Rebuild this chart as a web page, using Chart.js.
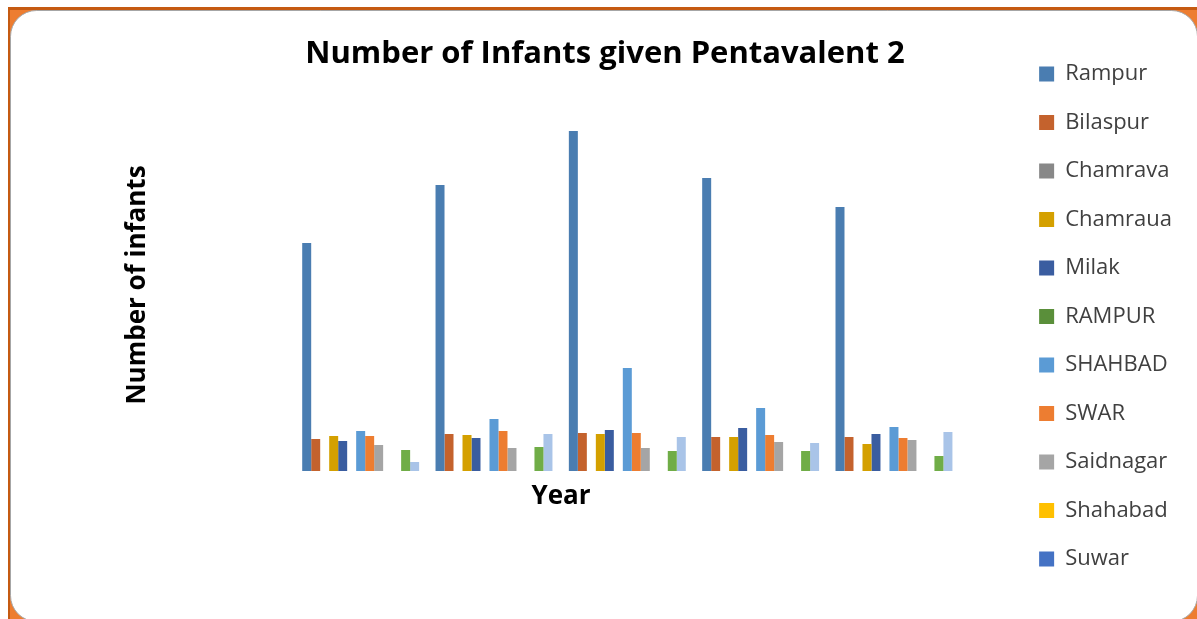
<!DOCTYPE html>
<html>
<head>
<meta charset="utf-8">
<title>Number of Infants given Pentavalent 2</title>
<script src="https://cdn.jsdelivr.net/npm/chart.js@4.4.1/dist/chart.umd.min.js"></script>
<style>
    html, body { margin: 0; padding: 0; background: #fff; }
    #wrap { width: 1197px; height: 619px; position: relative; }
</style>
</head>
<body>
<div id="wrap"><canvas id="chart"></canvas></div>
<script>
// Data (no y ticks shown, so values are in chart units)
const years = ['2011', '2012', '2013', '2014', '2015'];
const seriesNames = ['Rampur', 'Bilaspur', 'Chamrava', 'Chamraua', 'Milak', 'RAMPUR',
    'SHAHBAD', 'SWAR', 'Saidnagar', 'Shahabad', 'Suwar', 'TANDA', 'Tanda'];
const rampur    = [228, 286, 340, 293, 264];
const bilaspur  = [32, 37, 38, 34, 34];
const chamrava  = [0, 0, 0, 0, 0];
const chamraua  = [35, 36, 37, 34, 27];
const milak     = [30, 33, 41, 43, 37];
const rampurUp  = [0, 0, 0, 0, 0];
const shahbad   = [40, 52, 103, 63, 44];
const swar      = [35, 40, 38, 36, 33];
const saidnagar = [26, 23, 23, 29, 31];
const shahabad  = [0, 0, 0, 0, 0];
const suwar     = [0, 0, 0, 0, 0];
const tandaUp   = [21, 24, 20, 20, 15];
const tanda     = [9, 37, 34, 28, 39];
const yMax = 376;
const legendCount = 11; // legend in the picture is cut after "Suwar"

const seriesValues = [rampur, bilaspur, chamrava, chamraua, milak, rampurUp,
    shahbad, swar, saidnagar, shahabad, suwar, tandaUp, tanda];
const barColors = ['#4A7DB1', '#C4622D', '#888888', '#D4A000', '#3A5DA0', '#5A8F3A',
    '#5B9BD5', '#ED7D31', '#A5A5A5', '#FFC000', '#4472C4', '#70AD47', '#A9C4E8'];

const fontFamily = '"Open Sans", "DejaVu Sans", sans-serif';

// Orange frame with rounded white panel behind the chart
const framePlugin = {
    id: 'frame',
    beforeDraw(chart) {
        const ctx = chart.ctx;
        ctx.save();
        ctx.fillStyle = '#ffffff';
        ctx.fillRect(0, 0, chart.width, chart.height);
        ctx.fillStyle = '#ED7D31';
        ctx.fillRect(8, 7, chart.width - 8, chart.height - 7);
        ctx.fillStyle = '#C55A11';
        ctx.fillRect(8, 7, chart.width - 8, 3);
        ctx.fillRect(8, 7, 2, chart.height - 7);
        ctx.beginPath();
        ctx.roundRect(10.5, 10.5, chart.width - 10, chart.height - 8, 26);
        ctx.fillStyle = '#ffffff';
        ctx.fill();
        ctx.strokeStyle = '#A6A6A6';
        ctx.lineWidth = 1;
        ctx.stroke();
        ctx.restore();
    }
};

// Axis titles, placed where the original puts them
const axisTitlePlugin = {
    id: 'axisTitles',
    afterDraw(chart) {
        const ctx = chart.ctx;
        ctx.save();
        ctx.fillStyle = '#000000';
        ctx.font = 'bold 26px ' + fontFamily;
        ctx.textAlign = 'center';
        ctx.textBaseline = 'middle';
        ctx.fillText('Year', 561, 497);
        ctx.translate(138, 285);
        ctx.rotate(-Math.PI / 2);
        ctx.fillText('Number of infants', 0, 0);
        ctx.restore();
    }
};

const datasets = seriesNames.map((name, i) => ({
    label: name,
    data: seriesValues[i],
    backgroundColor: barColors[i],
    borderWidth: 0,
    categoryPercentage: 0.877,
    barPercentage: 1.0
}));

new Chart(document.getElementById('chart'), {
    type: 'bar',
    data: { labels: years, datasets: datasets },
    options: {
        responsive: true,
        maintainAspectRatio: false,
        animation: false,
        layout: { padding: { left: 28, right: 15, top: 14, bottom: 0 } },
        plugins: {
            title: {
                display: true,
                text: 'Number of Infants given Pentavalent 2',
                color: '#000000',
                font: { family: fontFamily, size: 31, weight: 'bold' },
                padding: { top: 21.5, bottom: 22.3 }
            },
            legend: {
                display: true,
                position: 'right',
                labels: {
                    color: '#404040',
                    font: { family: fontFamily, size: 22 },
                    boxWidth: 15,
                    boxHeight: 15,
                    padding: 26.5,
                    filter: (item) => item.datasetIndex < legendCount
                }
            },
            tooltip: { enabled: false }
        },
        scales: {
            x: {
                display: true,
                grid: { display: false },
                border: { display: false },
                ticks: { display: false },
                afterFit: (scale) => { scale.height = 148; }
            },
            y: {
                display: true,
                min: 0,
                max: yMax,
                grid: { display: false },
                border: { display: false },
                ticks: { display: false },
                afterFit: (scale) => { scale.width = 266; }
            },
            yRight: {
                display: true,
                position: 'right',
                grid: { display: false },
                border: { display: false },
                ticks: { display: false },
                afterFit: (scale) => { scale.width = 52; }
            }
        }
    },
    plugins: [framePlugin, axisTitlePlugin]
});
</script>
</body>
</html>
